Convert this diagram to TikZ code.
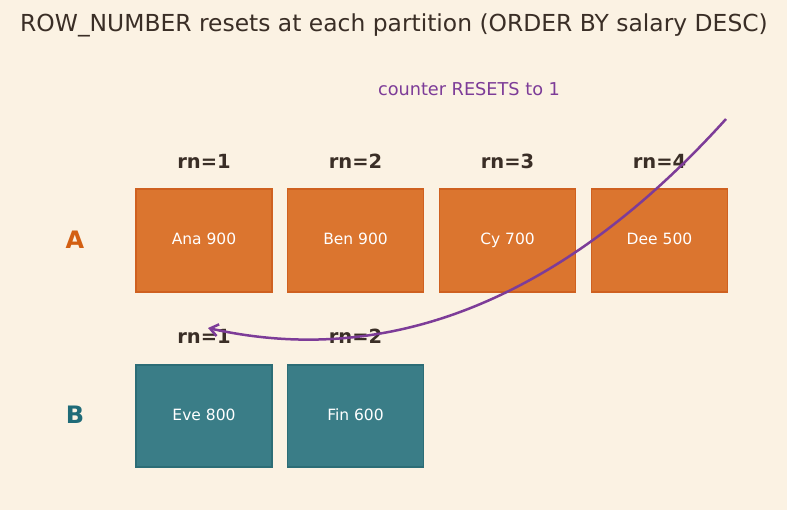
\documentclass[tikz,border=0pt]{standalone}
\usepackage{fontspec}
\setmainfont{DejaVu Sans}
\usetikzlibrary{arrows.meta}
\definecolor{bg}{HTML}{FBF2E3}
\definecolor{ink}{HTML}{3A2E26}
\definecolor{orfill}{HTML}{DB752F}
\definecolor{ordraw}{HTML}{CF6120}
\definecolor{tefill}{HTML}{3A7D87}
\definecolor{tedraw}{HTML}{2C6D76}
\definecolor{purp}{HTML}{7D3C98}
\definecolor{labA}{HTML}{D35F12}
\definecolor{labB}{HTML}{1F6B78}
\begin{document}
\begin{tikzpicture}[x=1pt,y=-1pt,
  cellA/.style={draw=ordraw,fill=orfill,line width=1.2pt,minimum width=136pt,minimum height=103pt,inner sep=0pt,text height=11.5pt,text depth=3pt,text=white,font=\fontsize{15.5}{18}\selectfont},
  cellB/.style={draw=tedraw,fill=tefill,line width=1.2pt,minimum width=136pt,minimum height=102pt,inner sep=0pt,text height=11.5pt,text depth=3pt,text=white,font=\fontsize{15.5}{18}\selectfont},
  rnlab/.style={text=ink,font=\bfseries\fontsize{19.5}{22}\selectfont,inner sep=0pt},
  part/.style={font=\bfseries\fontsize{24}{28}\selectfont,inner sep=0pt}]
\fill[bg] (0,0) rectangle (787,510);
\useasboundingbox (0,0) rectangle (787,510);
\node[text=ink,font=\fontsize{23.4}{27}\selectfont,inner sep=0pt] (title) at (394,25) {ROW\_NUMBER resets at each partition (ORDER BY salary DESC)};
\node[cellA] (a1) at (204,240.5) {Ana 900};
\node[cellA] (a2) at (355.5,240.5) {Ben 900};
\node[cellA] (a3) at (507.5,240.5) {Cy 700};
\node[cellA] (a4) at (659.5,240.5) {Dee 500};
\node[cellB] (b1) at (204,416) {Eve 800};
\node[cellB] (b2) at (355.5,416) {Fin 600};
\node[rnlab] (ra1) at (204,161.5) {rn=1};
\node[rnlab] (ra2) at (355.5,161.5) {rn=2};
\node[rnlab] (ra3) at (507.5,161.5) {rn=3};
\node[rnlab] (ra4) at (659.5,161.5) {rn=4};
\node[rnlab] (rb1) at (204,336.5) {rn=1};
\node[rnlab] (rb2) at (355.5,336.5) {rn=2};
\node[part,text=labA] (pA) at (75,240) {A};
\node[part,text=labB] (pB) at (75,415) {B};
\node[text=purp,font=\fontsize{17.7}{21}\selectfont,inner sep=0pt] (note) at (469,89) {counter RESETS to 1};
\coordinate (s) at (726,119);
\coordinate (e) at (208,328);
\draw[purp,line width=2.5pt,-{Straight Barb[length=8pt,width=12pt]}] (s) .. controls (566,296) and (393.3,369.3) .. (e);
\end{tikzpicture}
\end{document}
